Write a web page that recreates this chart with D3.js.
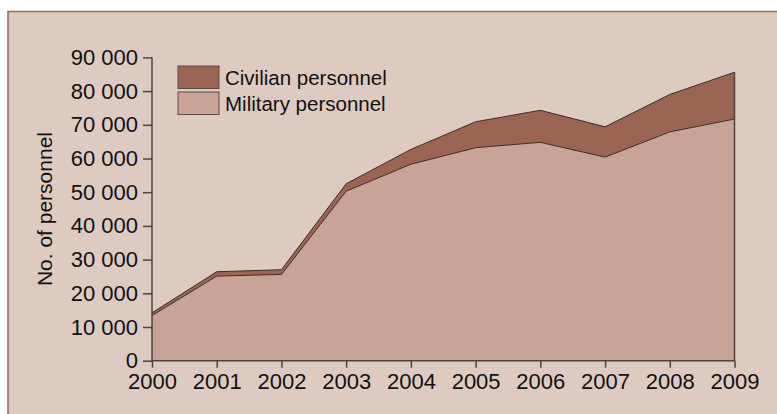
<!DOCTYPE html>
<html>
<head>
<meta charset="utf-8">
<script src="https://cdn.jsdelivr.net/npm/d3@7"></script>
<style>
  html, body { margin: 0; padding: 0; background: #ffffff; }
  svg { display: block; }
</style>
</head>
<body>
<div id="chart"></div>
<script>
// values
const years = [2000, 2001, 2002, 2003, 2004, 2005, 2006, 2007, 2008, 2009];
const military = [13400, 25100, 25600, 50300, 58300, 63200, 64800, 60400, 67900, 71700];
const civilian = [800, 1300, 1400, 2200, 4400, 7700, 9500, 9000, 11100, 13900];
const yTicks = [0, 10000, 20000, 30000, 40000, 50000, 60000, 70000, 80000, 90000];
const seriesNames = ["Military personnel", "Civilian personnel"];

const width = 777, height = 414;
const margin = { top: 57.4, right: 42.5, bottom: 53.3, left: 152 };
const fontFamily = "'Liberation Sans', Arial, sans-serif";

const colors = {
	bg: "#ddcbc1",
	border: "#aa6a62",
	military: "#c8a397",
	civilian: "#9c6452",
	outline: "#3b2e2c",
	axis: "#4a4343",
	text: "#111111"
};

const svg = d3.select("#chart").append("svg")
	.attr("width", width)
	.attr("height", height);

// panel
svg.append("rect")
	.attr("x", 8)
	.attr("y", 11.5)
	.attr("width", width + 10)
	.attr("height", height + 10)
	.style("fill", colors.bg)
	.style("stroke", colors.border)
	.style("stroke-width", 1.6);

const x = d3.scaleLinear()
	.domain([years[0], years[years.length - 1]])
	.range([margin.left, width - margin.right]);

const y = d3.scaleLinear()
	.domain([0, 90000])
	.range([height - margin.bottom, margin.top]);

const table = years.map((yr, i) => ({ year: yr, military: military[i], civilian: civilian[i] }));

const stack = d3.stack().keys(["military", "civilian"]);
const layers = stack(table);

const area = d3.area()
	.x(d => x(d.data.year))
	.y0(d => y(d[0]))
	.y1(d => y(d[1]));

const topLine = d3.line()
	.x(d => x(d.data.year))
	.y(d => y(d[1]));

const g = svg.append("g");

g.selectAll(".layer")
	.data(layers)
	.enter().append("path")
	.attr("class", "layer")
	.attr("d", area)
	.style("fill", d => d.key === "military" ? colors.military : colors.civilian);

g.selectAll(".edge")
	.data(layers)
	.enter().append("path")
	.attr("class", "edge")
	.attr("d", topLine)
	.style("fill", "none")
	.style("stroke", colors.outline)
	.style("stroke-width", 1)
	.style("stroke-linejoin", "round");

// right edge of the stack
const last = layers[layers.length - 1][years.length - 1];
g.append("line")
	.attr("x1", x(years[years.length - 1]))
	.attr("x2", x(years[years.length - 1]))
	.attr("y1", y(0))
	.attr("y2", y(last[1]))
	.style("stroke", colors.axis)
	.style("stroke-width", 1.5);

// axes
const yAxis = d3.axisLeft(y)
	.tickValues(yTicks)
	.tickSize(9)
	.tickPadding(5)
	.tickFormat(d => d3.format(",")(d).replace(/,/g, " "));

const xAxis = d3.axisBottom(x)
	.tickValues(years)
	.tickSize(7)
	.tickPadding(6)
	.tickFormat(d3.format("d"));

const yG = svg.append("g")
	.attr("transform", "translate(" + margin.left + ",0)")
	.call(yAxis);

const xG = svg.append("g")
	.attr("transform", "translate(0," + y(0) + ")")
	.call(xAxis);

[yG, xG].forEach(a => {
	a.select(".domain").style("stroke", colors.axis).style("stroke-width", 1.5);
	a.selectAll(".tick line").style("stroke", colors.axis).style("stroke-width", 1.5);
	a.selectAll(".tick text")
		.style("font-family", fontFamily)
		.style("font-size", "22px")
		.style("fill", colors.text);
});

yG.select(".domain").attr("d", "M0," + y(90000) + "V" + y(0));
xG.select(".domain").attr("d", "M" + x(years[0]) + ",0H" + x(years[years.length - 1]));

// y title
svg.append("text")
	.attr("transform", "translate(52," + ((y(0) + y(90000)) / 2) + ") rotate(-90)")
	.style("text-anchor", "middle")
	.style("font-family", fontFamily)
	.style("font-size", "21px")
	.style("fill", colors.text)
	.text("No. of personnel");

// legend
const legendItems = [
	{ name: seriesNames[1], color: colors.civilian },
	{ name: seriesNames[0], color: colors.military }
];

const legend = svg.append("g")
	.attr("transform", "translate(178,66)");

const item = legend.selectAll(".item")
	.data(legendItems)
	.enter().append("g")
	.attr("class", "item")
	.attr("transform", (d, i) => "translate(0," + (i * 26) + ")");

item.append("rect")
	.attr("width", 41)
	.attr("height", 22.5)
	.style("fill", d => d.color)
	.style("stroke", "#5a4a48")
	.style("stroke-width", 1);

item.append("text")
	.attr("x", 47)
	.attr("y", 19)
	.style("font-family", fontFamily)
	.style("font-size", "20.5px")
	.style("fill", colors.text)
	.text(d => d.name);
</script>
</body>
</html>
